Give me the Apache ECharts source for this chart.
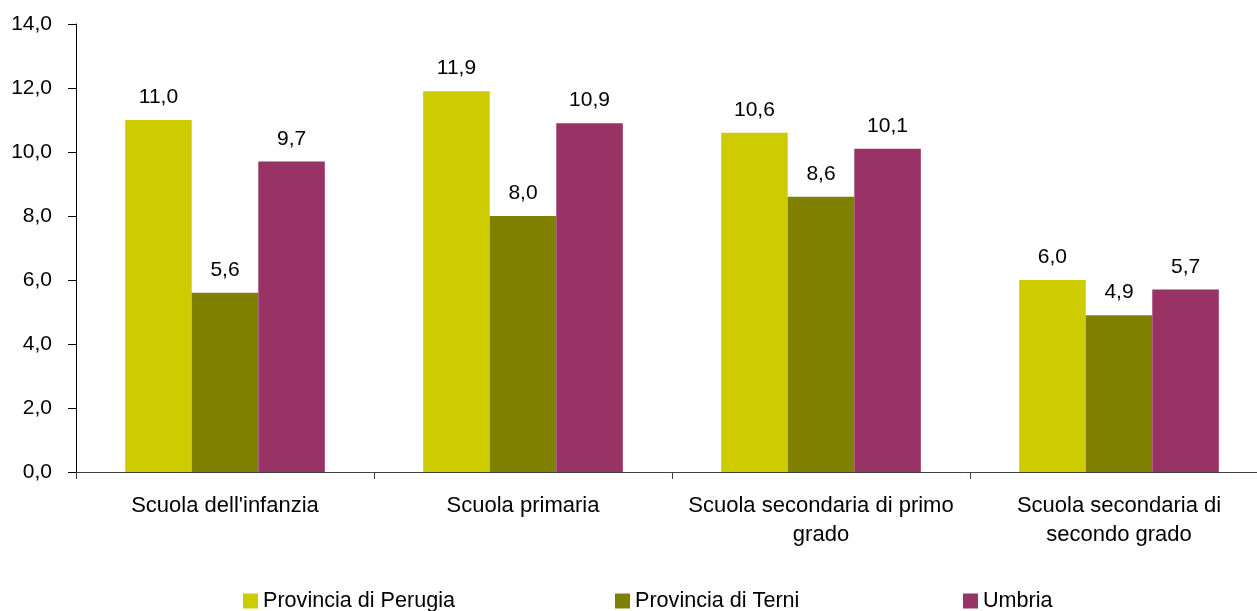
<!DOCTYPE html>
<html>
<head>
<meta charset="utf-8">
<script src="https://cdn.jsdelivr.net/npm/echarts@6/dist/echarts.min.js"></script>
<style>
html,body{margin:0;padding:0;background:#fff;}
#chart{width:1257px;height:611px;}
</style>
</head>
<body>
<div id="chart"></div>
<script>
const categories = ["Scuola dell'infanzia", "Scuola primaria", "Scuola secondaria di primo\ngrado", "Scuola secondaria di\nsecondo grado"];
const seriesNames = ["Provincia di Perugia", "Provincia di Terni", "Umbria"];
const perugia = [11.0, 11.9, 10.6, 6.0];
const terni = [5.6, 8.0, 8.6, 4.9];
const umbria = [9.7, 10.9, 10.1, 5.7];
const yTicks = [0, 2, 4, 6, 8, 10, 12, 14];

const colors = ['#CCCC00', '#808000', '#993366'];
const font = "'Liberation Sans', Arial, sans-serif";
const fmt = v => Number(v).toFixed(1).replace('.', ',');

const chart = echarts.init(document.getElementById('chart'), null, {renderer: 'canvas'});
const dataSets = [perugia, terni, umbria];
const legendLefts = [243, 615, 963];

chart.setOption({
  animation: false,
  backgroundColor: '#fff',
  textStyle: {fontFamily: font},
  grid: {left: 76, top: 24, width: 1192, height: 448, containLabel: false, outerBoundsMode: 'none'},
  legend: seriesNames.map((n, i) => ({
    data: [n],
    left: legendLefts[i],
    top: 590,
    icon: 'rect',
    itemWidth: 15,
    itemHeight: 15,
    itemGap: 0,
    textStyle: {fontSize: 21.6, color: '#000', fontFamily: font},
    padding: 0
  })),
  xAxis: {
    type: 'category',
    data: categories,
    axisLine: {show: true, lineStyle: {color: '#404040', width: 1}},
    axisTick: {show: true, length: 7, lineStyle: {color: '#404040'}},
    axisLabel: {fontSize: 22, color: '#000', margin: 19, lineHeight: 29, fontFamily: font, interval: 0}
  },
  yAxis: {
    type: 'value',
    min: yTicks[0],
    max: yTicks[yTicks.length - 1],
    interval: 2,
    splitLine: {show: false},
    axisLine: {show: true, lineStyle: {color: '#000', width: 1}},
    axisTick: {show: true, length: 8, lineStyle: {color: '#000'}},
    axisLabel: {fontSize: 21, color: '#000', margin: 24, fontFamily: font, formatter: v => fmt(v)}
  },
  series: seriesNames.map((n, i) => ({
    name: n,
    type: 'bar',
    data: dataSets[i],
    barGap: '0%',
    barCategoryGap: '33%',
    itemStyle: {color: colors[i]},
    label: {show: true, position: 'top', distance: 12, fontSize: 21, color: '#000', fontFamily: font, formatter: p => fmt(p.value)}
  }))
});
</script>
</body>
</html>
